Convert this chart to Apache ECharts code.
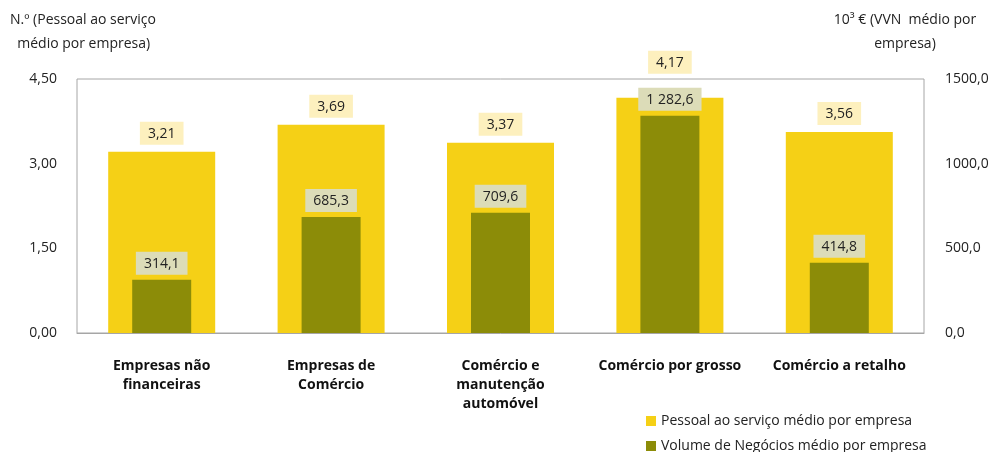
<!DOCTYPE html>
<html>
<head>
<meta charset="utf-8">
<script src="https://cdn.jsdelivr.net/npm/echarts@6/dist/echarts.min.js"></script>
<style>
  html, body { margin: 0; padding: 0; background: #fff; }
  #chart { width: 993px; height: 452px; }
</style>
</head>
<body>
<div id="chart"></div>
<script>
// data
const categories = ['Empresas não\nfinanceiras', 'Empresas de\nComércio', 'Comércio e\nmanutenção\nautomóvel', 'Comércio por grosso', 'Comércio a retalho'];
const pessoal = [3.21, 3.69, 3.37, 4.17, 3.56];
const volume = [314.1, 685.3, 709.6, 1282.6, 414.8];

const FONT = '"Open Sans", "Noto Sans", sans-serif';
const NAME_A = 'Pessoal ao serviço médio por empresa';
const NAME_B = 'Volume de Negócios médio por empresa';

function fmt(v, dec, sep) {
  const parts = v.toFixed(dec).split('.');
  if (sep) parts[0] = parts[0].replace(/\B(?=(\d{3})+(?!\d))/g, ' ');
  return parts.join(',');
}

// the tallest yellow label is pushed up so it clears the olive label (as in Excel)
const pessoalData = pessoal.map((v, i) => (
  i === 3 ? { value: v, label: { distance: 24 } } : v
));

const chart = echarts.init(document.getElementById('chart'));

const legendStyle = {
  orient: 'vertical', left: 641,
  itemWidth: 10, itemHeight: 10, icon: 'rect',
  textStyle: { fontSize: 14, color: '#222', fontFamily: FONT }
};

chart.setOption({
  animation: false,
  textStyle: { fontFamily: FONT },
  grid: {
    left: 77, right: 69, top: 79, bottom: 119,
    show: true, borderColor: '#a6a6a6', borderWidth: 1
  },
  legend: [
    Object.assign({ top: 409, data: [NAME_A] }, legendStyle),
    Object.assign({ top: 434, data: [NAME_B] }, legendStyle)
  ],
  graphic: [
    { type: 'text', left: 10, top: 8, style: { text: 'N.º (Pessoal ao serviço\n  médio por empresa)', fontSize: 14, lineHeight: 24, fill: '#222', fontFamily: FONT } },
    { type: 'text', x: 905, y: 8, style: { text: '10³ € (VVN  médio por\nempresa)', fontSize: 14, lineHeight: 24, fill: '#222', align: 'center', fontFamily: FONT } }
  ],
  xAxis: [
    {
      type: 'category', data: categories,
      axisLine: { show: true, lineStyle: { color: '#a6a6a6' } },
      axisTick: { show: false },
      axisLabel: { fontSize: 14, fontWeight: 'bold', color: '#111', margin: 24, lineHeight: 19, interval: 0, fontFamily: FONT }
    },
    { type: 'category', data: categories, show: false }
  ],
  yAxis: [
    {
      type: 'value', min: 0, max: 4.5, interval: 1.5,
      axisLine: { show: false }, axisTick: { show: false }, splitLine: { show: false },
      axisLabel: { fontSize: 14, color: '#222', margin: 20, formatter: v => fmt(v, 2, false), fontFamily: FONT }
    },
    {
      type: 'value', min: 0, max: 1500, interval: 500,
      axisLine: { show: false }, axisTick: { show: false }, splitLine: { show: false },
      axisLabel: { fontSize: 14, color: '#222', margin: 21, formatter: v => fmt(v, 1, false), fontFamily: FONT }
    }
  ],
  series: [
    {
      name: NAME_A,
      type: 'bar', xAxisIndex: 0, yAxisIndex: 0,
      data: pessoalData, barWidth: 107,
      itemStyle: { color: '#F5D016' },
      label: {
        show: true, position: 'top', distance: 7,
        formatter: p => fmt(p.value, 2, true),
        backgroundColor: '#FDF0BE', padding: [5, 8, 4, 8],
        fontSize: 14, color: '#222', fontFamily: FONT
      },
      z: 2
    },
    {
      name: NAME_B,
      type: 'bar', xAxisIndex: 1, yAxisIndex: 1,
      data: volume, barWidth: 59,
      itemStyle: { color: '#8C8C08' },
      label: {
        show: true, position: 'top', distance: 5,
        formatter: p => fmt(p.value, 1, true),
        backgroundColor: '#DCDCB8', padding: [5, 8, 4, 8],
        fontSize: 14, color: '#222', fontFamily: FONT
      },
      z: 3
    }
  ]
});
</script>
</body>
</html>
